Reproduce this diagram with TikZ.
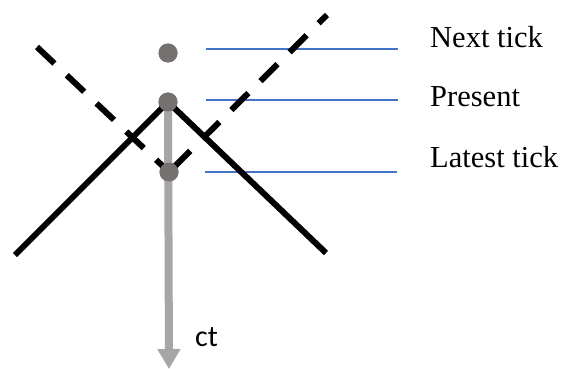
\documentclass[tikz,border=0pt]{standalone}
\usepackage{fontspec}
\setmainfont{Liberation Serif}
\newfontfamily\calfont{Carlito}
\usetikzlibrary{arrows.meta}
\definecolor{dotgray}{RGB}{118,113,113}
\definecolor{shaftgray}{RGB}{166,166,166}
\definecolor{tickblue}{RGB}{68,114,196}
\begin{document}
\begin{tikzpicture}[x=1pt,y=-1pt,
  cone/.style={line width=6pt, black},
  dashcone/.style={line width=6pt, black, dash pattern=on 24pt off 17pt},
  tickline/.style={tickblue, line width=1.2pt},
  event/.style={circle, fill=dotgray, minimum size=19pt, inner sep=0pt},
  ticktext/.style={anchor=base west, inner sep=0pt, font=\fontsize{30.5}{36}\selectfont},
  shaft/.style={shaftgray, line width=8pt, -{Triangle[width=22pt,length=20pt]}}
]
\useasboundingbox (0,0) rectangle (562,369);
% event nodes
\node[event] (next) at (168,53) {};
\node[event] (present) at (168,102) {};
\node[event] (latest) at (169,172) {};
% free ends
\coordinate (solidL) at (15,255);
\coordinate (solidR) at (326,253);
\coordinate (dashL) at (37,47);
\coordinate (dashR) at (327,15);
\coordinate (arrowEnd) at (169,369);
\coordinate (nextA) at (206,49);
\coordinate (nextB) at (398,49);
\coordinate (presA) at (206,100);
\coordinate (presB) at (398,100);
\coordinate (latA) at (205,172);
\coordinate (latB) at (397,172);
% tick guide lines
\draw[tickline] (nextA) -- (nextB);
\draw[tickline] (presA) -- (presB);
\draw[tickline] (latA) -- (latB);
% light cones
\draw[cone] (present.center) -- (solidL);
\draw[cone] (present.center) -- (solidR);
\draw[dashcone] (dashL) -- (latest.center);
\draw[dashcone, dash phase=35pt] (latest.center) -- (dashR);
% time arrow
\draw[shaft] (present.center) -- (arrowEnd);
% redraw events on top
\node[event] at (next.center) {};
\node[event] at (present.center) {};
\node[event] at (latest.center) {};
% labels
\node[ticktext] (tNext) at (430,48) {Next tick};
\node[ticktext] (tPresent) at (430,106) {Present};
\node[ticktext] (tLatest) at (430,167) {Latest tick};
\node[anchor=base west, inner sep=0pt, font=\calfont\fontsize{30}{36}\selectfont] (ctlabel) at (195,346) {ct};
\end{tikzpicture}
\end{document}
